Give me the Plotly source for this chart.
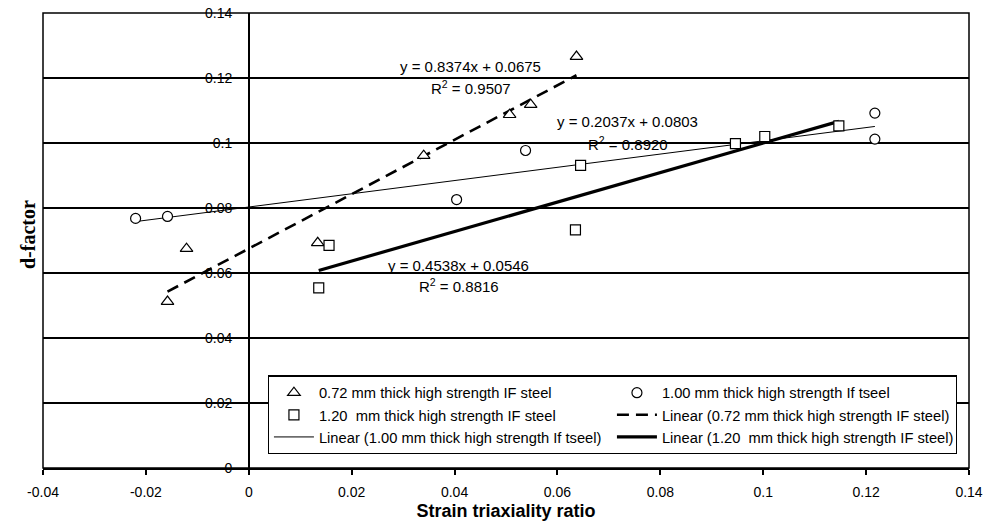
import numpy as np
import plotly.graph_objects as go

# Measured d-factor vs strain triaxiality ratio for three sheet gauges
x_072 = [-0.0158, -0.0121, 0.0134, 0.0340, 0.0507, 0.0548, 0.0637]
y_072 = [0.0512, 0.0675, 0.0693, 0.0961, 0.1087, 0.1118, 0.1266]

x_100 = [-0.0220, -0.0158, 0.0404, 0.0538, 0.1217, 0.1217]
y_100 = [0.0768, 0.0774, 0.0826, 0.0977, 0.1092, 0.1012]

x_120 = [0.0136, 0.0156, 0.0635, 0.0645, 0.0946, 0.1003, 0.1147]
y_120 = [0.0554, 0.0685, 0.0733, 0.0931, 0.0998, 0.1020, 0.1053]

# Linear fits (slope, intercept, R²)
fit_072 = (0.8374, 0.0675, 0.9507)
fit_100 = (0.2037, 0.0803, 0.8920)
fit_120 = (0.4538, 0.0546, 0.8816)

names = [
    "0.72 mm thick high strength IF steel",
    "1.00 mm thick high strength If tseel",
    "1.20  mm thick high strength IF steel",
]

x_ticks = [-0.04, -0.02, 0, 0.02, 0.04, 0.06, 0.08, 0.1, 0.12, 0.14]
x_ticktext = ["-0.04", "-0.02", "0", "0.02", "0.04", "0.06", "0.08", "0.1", "0.12", "0.14"]
y_ticks = [0, 0.02, 0.04, 0.06, 0.08, 0.1, 0.12, 0.14]
y_ticktext = ["0", "0.02", "0.04", "0.06", "0.08", "0.1", "0.12", "0.14"]

X_RANGE = [-0.04, 0.14]
Y_RANGE = [0, 0.14]

SANS = "Liberation Sans, Arial, sans-serif"
SERIF = "Liberation Serif, Times New Roman, serif"


def fit_line(xs, fit):
    m, b, _ = fit
    xx = np.array([min(xs), max(xs)])
    return xx, m * xx + b


fig = go.Figure()

# trend lines first so the markers sit on top of them
line_styles = [
    (x_072, fit_072, dict(color="black", width=2.6, dash="12px,7px"), 4),
    (x_100, fit_100, dict(color="black", width=1), 5),
    (x_120, fit_120, dict(color="black", width=3.2), 6),
]
for (xs, fit, style, rank), name in zip(line_styles, names):
    lx, ly = fit_line(xs, fit)
    fig.add_trace(go.Scatter(
        x=lx, y=ly, mode="lines", line=style,
        name=f"Linear ({name})", legendrank=rank,
    ))

marker_styles = [
    (x_072, y_072, "triangle-up", 11, 1),
    (x_100, y_100, "circle", 10, 2),
    (x_120, y_120, "square", 10, 3),
]
for (xs, ys, sym, size, rank), name in zip(marker_styles, names):
    fig.add_trace(go.Scatter(
        x=xs, y=ys, mode="markers", name=name, legendrank=rank,
        marker=dict(symbol=sym, size=size, color="white",
                    line=dict(color="black", width=1.2)),
    ))

# Fit equations and R² labels
label_pos = [
    (fit_072, 0.0431, 0.1236, 0.1172),
    (fit_100, 0.0737, 0.1066, 0.0997),
    (fit_120, 0.0408, 0.0622, 0.0561),
]
for fit, lx, ye, yr in label_pos:
    m, b, r2 = fit
    fig.add_annotation(x=lx, y=ye, text=f"y = {m:.4f}x + {b:.4f}",
                       showarrow=False, font=dict(family=SANS, size=15, color="black"))
    fig.add_annotation(x=lx, y=yr, text=f"R<sup>2</sup> = {r2:.4f}",
                       showarrow=False, font=dict(family=SANS, size=15, color="black"))

# y-axis title, out at the left edge
fig.add_annotation(x=0, y=0.512, xref="paper", yref="paper",
                   xanchor="center", yanchor="middle", xshift=-15,
                   text="<b>d-factor</b>", textangle=-90, showarrow=False,
                   font=dict(family=SERIF, size=20, color="black"))

y_axis_pos = (0 - X_RANGE[0]) / (X_RANGE[1] - X_RANGE[0])

fig.update_layout(
    width=993, height=526,
    margin=dict(l=43, r=24, t=13, b=58),
    paper_bgcolor="white", plot_bgcolor="white",
    font=dict(family=SANS, size=14, color="black"),
    xaxis=dict(
        range=X_RANGE, tickvals=x_ticks, ticktext=x_ticktext,
        showgrid=False, zeroline=False, automargin=False,
        showline=True, linecolor="black", linewidth=1.5,
        ticks="outside", ticklen=5, tickcolor="black", tickwidth=1.5,
        ticklabelstandoff=5,
        tickfont=dict(family=SANS, size=14),
        title=dict(text="<b>Strain triaxiality ratio</b>", standoff=6,
                   font=dict(family=SANS, size=18)),
    ),
    yaxis=dict(
        range=Y_RANGE, tickvals=y_ticks, ticktext=y_ticktext,
        anchor="free", position=y_axis_pos, automargin=False,
        showgrid=True, gridcolor="black", gridwidth=1.5,
        zeroline=False,
        showline=True, linecolor="black", linewidth=1.5,
        ticks="", ticklabelstandoff=13,
        tickfont=dict(family=SANS, size=14),
    ),
    legend=dict(
        orientation="h", x=0.2427, y=0.2034, xanchor="left", yanchor="top",
        entrywidth=288, entrywidthmode="pixels", itemwidth=40,
        bgcolor="white", bordercolor="black", borderwidth=1.2,
        font=dict(family=SANS, size=14.7),
        traceorder="normal",
    ),
    shapes=[dict(type="rect", xref="paper", yref="paper", x0=0, y0=0, x1=1, y1=1,
                 line=dict(color="black", width=1.5), layer="above")],
)

fig.write_html("out.html")
